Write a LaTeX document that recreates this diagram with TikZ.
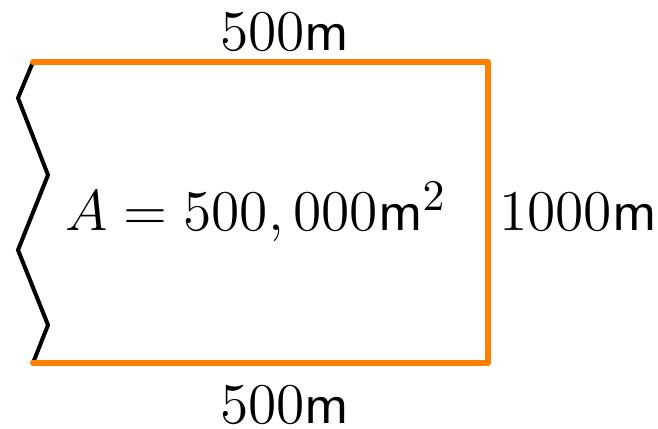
\documentclass[tikz,border=0pt]{standalone}
\definecolor{edgeorange}{RGB}{255,128,0}
\begin{document}
\begin{tikzpicture}[x=0.25pt,y=-0.25pt,
  fence/.style={draw=edgeorange,line width=1.5pt,line cap=round,line join=round},
  zig/.style={draw=black,line width=1pt,line join=miter},
  lbl/.style={inner sep=0pt,font=\fontsize{15}{18}\selectfont}]
\useasboundingbox (0,0) rectangle (658,429);
\coordinate (tl) at (33,62);
\coordinate (tr) at (488,62);
\coordinate (br) at (488,363);
\coordinate (bl) at (33,363);
\coordinate (z1) at (18,98);
\coordinate (z2) at (48,175);
\coordinate (z3) at (18,250);
\coordinate (z4) at (48,325);
\draw[zig] (tl) -- (z1) -- (z2) -- (z3) -- (z4) -- (bl);
\draw[fence] (tl) -- (tr) -- (br) -- (bl);
\node[lbl] (top) at (285,32) {$500\mathsf{m}$};
\node[lbl] (bot) at (285,405) {$500\mathsf{m}$};
\node[lbl] (side) at (578,212) {$1000\mathsf{m}$};
\node[lbl] (area) at (256,212) {$A=500,000\mathsf{m}^2$};
\end{tikzpicture}
\end{document}
